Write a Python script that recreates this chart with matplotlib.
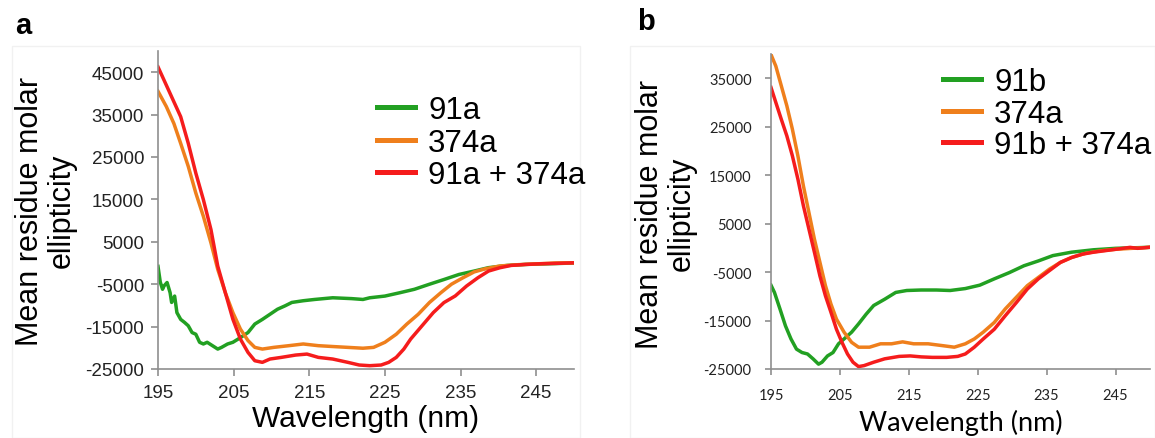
import matplotlib
matplotlib.use("Agg")
import matplotlib.pyplot as plt
from matplotlib.patches import Rectangle
from matplotlib.lines import Line2D

W, H = 1155, 439
plt.rcParams["axes.unicode_minus"] = False

# ---- panel a data ----
wl_91a = [195.0, 195.3, 195.6, 195.8, 196.2, 196.6, 196.8, 197.2, 197.5, 198.0, 198.5, 199.0,
          199.5, 200.0, 200.5, 201.0, 201.5, 202.2, 202.9, 203.4, 204.2, 204.9, 205.9, 206.9,
          207.8, 208.8, 209.8, 210.8, 211.8, 212.7, 214.2, 215.7, 218.1, 220.6, 222.1, 223.0,
          225.0, 227.0, 228.9, 230.9, 232.8, 234.8, 236.8, 238.7, 241.2, 243.6, 246.6, 250.0]
cd_91a = [-800, -4500, -6200, -5400, -4600, -7000, -9300, -7800, -11700, -13300, -14000, -14800,
          -16400, -16800, -18700, -19100, -18700, -19500, -20300, -19900, -19100, -18700, -17600, -16400,
          -14400, -13300, -12100, -10900, -10100, -9300, -8900, -8600, -8200, -8400, -8600, -8200,
          -7800, -7000, -6200, -5000, -3900, -2700, -1900, -1100, -570, -340, -180, 0]

wl_374a_a = [195.0, 196.1, 197.1, 198.0, 199.0, 200.0, 201.0, 202.0, 202.9, 203.9, 204.9, 205.9,
             206.9, 207.8, 208.8, 210.3, 212.3, 214.2, 216.2, 218.1, 220.1, 222.1, 223.5, 225.0,
             226.5, 227.9, 229.4, 230.9, 232.4, 233.8, 235.3, 236.8, 238.2, 240.2, 242.6, 245.1,
             247.5, 250.0]
cd_374a_a = [40500, 36900, 32900, 28200, 22800, 16500, 11000, 4750, -1500, -7000, -11700, -15600,
             -18300, -19900, -20300, -19900, -19500, -19100, -19500, -19700, -19900, -20100, -19900, -18700,
             -16800, -14400, -12100, -9300, -7000, -5000, -3500, -2100, -1400, -700, -400, -200,
             0, 50]

wl_mix_a = [195.0, 195.8, 196.8, 198.0, 199.0, 200.0, 201.0, 202.0, 202.9, 203.9, 204.9, 205.9,
            206.9, 207.8, 208.8, 209.8, 211.3, 213.2, 214.7, 216.2, 218.1, 220.1, 221.6, 223.0,
            224.5, 225.5, 226.5, 227.5, 228.4, 229.9, 231.4, 232.8, 234.3, 235.8, 237.3, 238.7,
            240.2, 241.7, 243.6, 245.6, 247.5, 250.0]
cd_mix_a = [46250, 43120, 39200, 34500, 28240, 21200, 14930, 7890, -730, -7000, -13260, -17960,
            -21090, -23050, -23430, -22650, -22260, -21710, -21480, -22260, -22650, -23430, -24060, -24220,
            -24060, -23430, -22260, -20300, -17950, -14820, -11690, -9340, -7770, -5420, -3470, -1900,
            -1120, -570, -340, -180, -100, 50]

# ---- panel b data ----
wl_91b = [195.0, 195.5, 196.3, 197.1, 197.9, 198.7, 199.5, 200.3, 201.1, 201.9, 202.4, 203.2,
          204.0, 204.8, 205.6, 206.7, 207.7, 208.8, 209.9, 211.5, 213.1, 214.7, 216.8, 219.0,
          221.0, 223.2, 225.3, 227.4, 229.6, 231.7, 233.8, 235.9, 238.6, 241.8, 245.0, 249.8]
cd_91b = [-7700, -9200, -12600, -16100, -18800, -20900, -21600, -21900, -22900, -24000, -23600, -22300,
          -21600, -19800, -18800, -17400, -15700, -13700, -11900, -10600, -9200, -8800, -8700, -8700,
          -8800, -8400, -7700, -6400, -5100, -3700, -2700, -1600, -900, -400, -100, 100]

wl_374a_b = [195.0, 195.7, 196.5, 197.3, 198.1, 198.9, 199.7, 200.5, 201.3, 202.1, 202.9, 203.7,
             204.5, 205.6, 206.7, 207.7, 209.3, 210.9, 212.5, 214.1, 215.7, 217.8, 220.0, 221.6,
             223.2, 224.5, 225.8, 227.4, 229.0, 230.6, 232.2, 233.8, 235.4, 237.0, 238.6, 240.7,
             242.9, 245.0, 249.8]
cd_374a_b = [39900, 37500, 33400, 29300, 24500, 19000, 12800, 7300, 1800, -3000, -7800, -11600,
             -14700, -17400, -19500, -20500, -20500, -19800, -19800, -19400, -19800, -19800, -20200, -20500,
             -19800, -18800, -17400, -15400, -12600, -10200, -7800, -6100, -4400, -3000, -2000, -1100,
             -600, -300, 100]

wl_mix_b = [195.0, 195.7, 196.5, 197.3, 198.1, 198.9, 199.7, 200.5, 201.3, 202.1, 202.9, 203.7,
            204.5, 205.3, 206.1, 206.9, 207.7, 208.5, 209.9, 211.5, 213.6, 215.2, 216.8, 218.4,
            220.5, 222.1, 223.2, 224.5, 225.8, 227.4, 229.0, 230.6, 232.2, 233.8, 235.4, 237.0,
            238.6, 240.2, 241.8, 243.4, 245.0, 247.1, 248.2, 249.8]
cd_mix_b = [33100, 30000, 26500, 23100, 19000, 14200, 8700, 3900, -900, -5800, -9900, -13300,
            -16800, -19500, -21900, -23600, -24500, -24300, -23600, -22900, -22400, -22300, -22500, -22600,
            -22600, -22400, -21900, -20500, -18800, -16800, -14000, -11300, -8500, -6400, -4700, -3000,
            -2000, -1300, -900, -600, -300, 100, -100, 100]

yticks_a = [45000, 35000, 25000, 15000, 5000, -5000, -15000, -25000]
yticks_b = [35000, 25000, 15000, 5000, -5000, -15000, -25000]
xticks = [195, 205, 215, 225, 235, 245]

GREEN, ORANGE, RED = "#22a022", "#ef7f1c", "#f51c1c"
SPINE = "#8f8f8f"
ARIAL = "Liberation Sans"
CALI = "Lato"

fig = plt.figure(figsize=(W / 100, H / 100), dpi=100)

# faint panel frames
for l, r in [(12, 580), (630, 1155)]:
    fig.patches.append(Rectangle((l / W, 0), (r - l) / W, (H - 47) / H, transform=fig.transFigure,
                                 fill=False, ec="#f1f1f1", lw=1.0))


def px_axes(left, top, right, bottom):
    return fig.add_axes([left / W, 1 - bottom / H, (right - left) / W, (bottom - top) / H])


def style(ax, tickfont, ticksize, ylim, yticks, ypad, xpad, ticklen):
    ax.set_xlim(195, 250)
    ax.set_ylim(*ylim)
    ax.set_xticks(xticks)
    ax.set_yticks(yticks)
    for s in ["top", "right"]:
        ax.spines[s].set_visible(False)
    for s in ["left", "bottom"]:
        ax.spines[s].set_color(SPINE)
        ax.spines[s].set_linewidth(1.2)
    ax.tick_params(axis="both", direction="out", length=ticklen, width=1.2, color=SPINE,
                   labelsize=ticksize, labelcolor="#222222")
    ax.tick_params(axis="y", pad=ypad)
    ax.tick_params(axis="x", pad=xpad)
    for t in ax.get_xticklabels() + ax.get_yticklabels():
        t.set_fontfamily(tickfont)


def draw(ax, series, labels, legend_anchor, spacing):
    for (x, y), c in zip(series, [GREEN, ORANGE, RED]):
        ax.plot(x, y, color=c, lw=2.5, solid_joinstyle="round")
    handles = [Line2D([], [], color=c, lw=3.6) for c in [GREEN, ORANGE, RED]]
    fig.legend(handles, labels, loc="upper left", bbox_to_anchor=legend_anchor,
               bbox_transform=fig.transFigure, frameon=False, borderpad=0, borderaxespad=0,
               handlelength=1.22, handletextpad=0.42, labelspacing=spacing,
               prop={"family": ARIAL, "size": 22.5})


# ---- panel a ----
ax1 = px_axes(158, 52, 574, 370)
draw(ax1, [(wl_91a, cd_91a), (wl_374a_a, cd_374a_a), (wl_mix_a, cd_mix_a)],
     ["91a", "374a", "91a + 374a"], (377 / W, 1 - 96 / H), 0.08)
style(ax1, ARIAL, 13.5, (-25000, 50000), yticks_a, 5, 6, 5)
ax1.set_xlabel("Wavelength (nm)", fontfamily=ARIAL, fontsize=21.5, labelpad=2)
ax1.set_ylabel("Mean residue molar\nellipticity", fontfamily=ARIAL, fontsize=22,
               linespacing=1.1, va="center")
ax1.yaxis.set_label_coords(-0.27, 0.5)

# ---- panel b ----
ax2 = px_axes(771, 55, 1150, 370)
draw(ax2, [(wl_91b, cd_91b), (wl_374a_b, cd_374a_b), (wl_mix_b, cd_mix_b)],
     ["91b", "374a", "91b + 374a"], (943 / W, 1 - 68 / H), 0.05)
style(ax2, CALI, 10.5, (-25000, 40000), yticks_b, 10, 10, 4)
ax2.set_xlabel("Wavelength (nm)", fontfamily=CALI, fontsize=19.5, labelpad=5)
ax2.set_ylabel("Mean residue molar\nellipticity", fontfamily=ARIAL, fontsize=22,
               linespacing=1.1, va="center")
ax2.yaxis.set_label_coords(-0.277, 0.495)

fig.text(23 / W, 1 - 26 / H, "a", fontfamily=ARIAL, fontweight="bold", fontsize=21,
         ha="center", va="center")
fig.text(646 / W, 1 - 22 / H, "b", fontfamily=ARIAL, fontweight="bold", fontsize=21,
         ha="center", va="center")

fig.savefig("out.png", dpi=100)
